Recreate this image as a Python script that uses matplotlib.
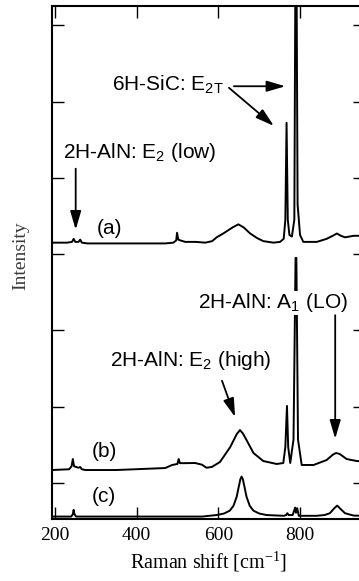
import matplotlib
matplotlib.use('Agg')
import matplotlib.pyplot as plt

# Raman shift [cm-1] and intensity (relative to each spectrum's baseline, arb. units)
shift_a = [193, 230, 242, 246, 250, 258, 262, 266, 280, 400, 470, 490, 497, 499, 502, 507, 519, 545,
           568, 585, 596, 615, 635, 649, 662, 678, 695, 710, 735, 751, 760, 764, 767, 770, 774, 780,
           786, 789, 791, 794, 800, 808, 841, 865, 880, 890, 900, 910, 931, 945, 960]
int_a = [0.0, 0.0, 0.01, 0.05, 0.01, 0.01, 0.04, 0.0, -0.01, -0.01, -0.01, 0.0, 0.03, 0.13, 0.04, 0.03,
         0.01, 0.01, 0.0, 0.02, 0.07, 0.13, 0.2, 0.24, 0.2, 0.12, 0.06, 0.02, 0.0, 0.01, 0.05, 0.3,
         1.57, 0.3, 0.1, 0.08, 0.3, 4.0, 4.0, 0.5, 0.1, 0.01, 0.01, 0.05, 0.09, 0.12, 0.09, 0.07,
         0.09, 0.09, 0.09]

shift_b = [193, 235, 241, 244, 247, 252, 258, 262, 266, 275, 350, 470, 487, 500, 503, 506, 520, 543,
           560, 571, 584, 604, 629, 645, 653, 660, 669, 686, 710, 743, 759, 764, 768, 771, 776, 784,
           789, 791, 795, 804, 833, 865, 880, 888, 897, 914, 939, 960]
int_b = [0.0, 0.01, 0.05, 0.144, 0.05, 0.04, 0.03, 0.04, 0.01, 0.0, 0.0, 0.026, 0.066, 0.08, 0.144,
         0.09, 0.09, 0.092, 0.07, 0.03, 0.04, 0.105, 0.3, 0.47, 0.524, 0.48, 0.393, 0.223, 0.118,
         0.079, 0.092, 0.3, 0.84, 0.3, 0.092, 0.4, 2.78, 2.78, 0.4, 0.066, 0.066, 0.131, 0.2,
         0.223, 0.21, 0.144, 0.118, 0.11]

shift_c = [193, 240, 244, 246, 248, 252, 400, 560, 596, 614, 628, 637, 645, 650, 654, 657, 660, 664,
           669, 677, 686, 700, 718, 760, 766, 769, 772, 782, 788, 790, 793, 797, 840, 860, 873, 884,
           891, 899, 910, 931, 960]
int_c = [0.0, 0.0, 0.03, 0.088, 0.03, 0.0, 0.0, 0.0, 0.02, 0.04, 0.077, 0.14, 0.26, 0.39, 0.49, 0.524,
         0.49, 0.39, 0.26, 0.14, 0.077, 0.04, 0.02, 0.01, 0.02, 0.044, 0.02, 0.02, 0.118, 0.05, 0.11,
         0.01, 0.01, 0.02, 0.044, 0.11, 0.144, 0.1, 0.044, 0.013, 0.01]

offsets = {'a': 3.15, 'b': 0.17, 'c': -0.44}

xticks = [200, 400, 600, 800]

plt.rcParams['font.family'] = ['Liberation Sans', 'DejaVu Sans']
plt.rcParams['mathtext.default'] = 'regular'

fig = plt.figure(figsize=(3.59, 5.81), dpi=100)
ax = fig.add_axes([0.1448, 0.1067, 0.872, 0.883])

lw = 1.4
ax.plot(shift_a, [v + offsets['a'] for v in int_a], color='k', lw=lw, zorder=2)
ax.plot(shift_b, [v + offsets['b'] for v in int_b], color='k', lw=lw, zorder=2)
ax.plot(shift_c, [v + offsets['c'] for v in int_c], color='k', lw=lw, zorder=2)

ax.set_xlim(193, 959)
ax.set_ylim(-0.472, 6.252)

ax.set_xticks(xticks)
ax.set_xticklabels([str(t) for t in xticks], fontfamily='Liberation Serif', fontsize=14)
ax.set_yticks(range(7))
ax.set_yticklabels([])
ax.tick_params(direction='in', length=8.5, width=1.0, top=True, right=True, pad=6)
for s in ax.spines.values():
    s.set_linewidth(1.5)

ax.set_xlabel('Raman shift [cm$^{\\mathregular{-1}}$]', fontfamily='Liberation Serif',
              fontsize=14.5, labelpad=4)
fig.text(0.058, 0.56, 'Intensity', rotation=90, ha='center', va='center',
         fontfamily='Liberation Serif', fontsize=14, color='#3a3a3a')

fs = 15
ax.text(340, 5.22, '6H-SiC: E$_{\\mathregular{2T}}$', fontsize=fs, ha='left', va='center')
ax.text(220, 4.33, '2H-AlN: E$_\\mathregular{2}$ (low)', fontsize=fs, ha='left', va='center')
ax.text(550, 2.36, '2H-AlN: A$_\\mathregular{1}$ (LO)', fontsize=fs, ha='left', va='center',
        zorder=3, bbox=dict(fc='white', ec='none', pad=0.3))
ax.text(335, 1.60, '2H-AlN: E$_\\mathregular{2}$ (high)', fontsize=fs, ha='left', va='center')
ax.text(303, 3.33, '(a)', fontsize=fs, ha='left', va='center')
ax.text(291, 0.41, '(b)', fontsize=fs, ha='left', va='center')
ax.text(291, -0.18, '(c)', fontsize=fs, ha='left', va='center')

arrow = dict(arrowstyle='-|>,head_length=0.75,head_width=0.22', color='k', lw=1.3,
             shrinkA=0, shrinkB=0, mutation_scale=15)
ax.annotate('', xy=(764, 5.20), xytext=(638, 5.20), arrowprops=arrow)
ax.annotate('', xy=(736, 4.68), xytext=(626, 5.18), arrowprops=arrow)
ax.annotate('', xy=(251, 3.32), xytext=(251, 4.12), arrowprops=arrow)
ax.annotate('', xy=(886, 0.58), xytext=(886, 2.20), arrowprops=arrow)
ax.annotate('', xy=(641, 0.865), xytext=(609, 1.34), arrowprops=arrow)

fig.savefig('out.png', dpi=100)
